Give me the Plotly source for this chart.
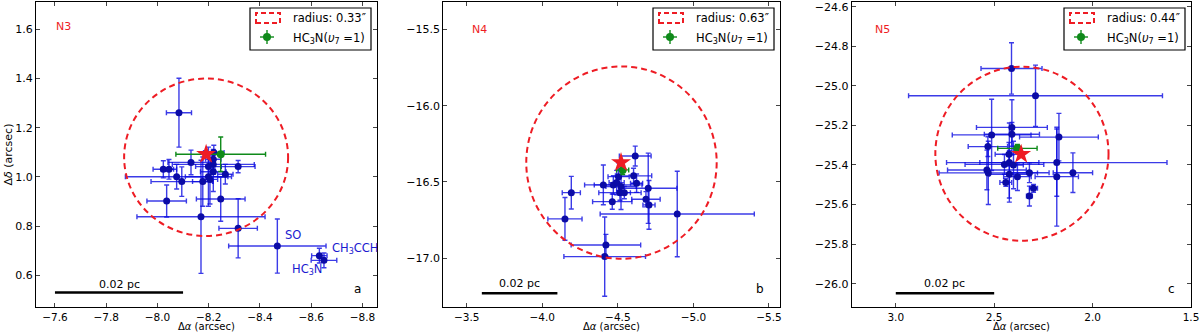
import plotly.graph_objects as go

# ---- N3 (panel a) ----
n3_ra = [-8.084, -8.220, -8.131, -8.218, -8.218, -8.315, -8.023, -8.045, -8.199, -8.218, -8.265, -8.075,
         -8.199, -8.095, -8.177, -8.205, -8.036, -8.247, -8.170, -8.315, -8.468, -8.632, -8.650]
n3_dec = [1.261, 1.099, 1.059, 1.072, 1.051, 1.042, 1.031, 1.031, 1.042, 1.021, 1.011, 1.001,
          1.001, 0.981, 0.981, 0.990, 0.902, 0.910, 0.838, 0.791, 0.719, 0.680, 0.661]
n3_ra_err = [0.049, 0.04, 0.09, 0.03, 0.16, 0.066, 0.04, 0.03, 0.05, 0.05, 0.03, 0.2,
             0.09, 0.12, 0.04, 0.03, 0.077, 0.095, 0.25, 0.075, 0.19, 0.03, 0.05]
n3_dec_err = [0.14, 0.03, 0.05, 0.04, 0.04, 0.025, 0.035, 0.04, 0.06, 0.08, 0.04, 0.05,
              0.12, 0.06, 0.1, 0.1, 0.065, 0.09, 0.23, 0.12, 0.11, 0.03, 0.03]
n3_hc3n = [-8.247, 1.092, 0.175, 0.07]      # ra, dec, ra_err, dec_err
n3_peak = [-8.19, 1.092]
n3_circle = [-8.19, 1.08, 0.32]
n3_labels = ["SO", "CH<sub>3</sub>CCH", "HC<sub>3</sub>N"]

# ---- N4 (panel b) ----
n4_ra = [-4.615, -4.604, -4.505, -4.404, -4.470, -4.492, -4.521, -4.624, -4.701, -4.514, -4.543, -4.463,
         -4.686, -4.706, -4.192, -4.150, -4.893, -4.421, -4.413]
n4_dec = [-16.33, -16.46, -16.465, -16.519, -16.519, -16.504, -16.53, -16.508, -16.541, -16.57, -16.57,
          -16.629, -16.613, -16.65, -16.57, -16.742, -16.71, -16.913, -16.989]
n4_ra_err = [0.105, 0.12, 0.07, 0.06, 0.19, 0.05, 0.1, 0.04, 0.19, 0.14, 0.04, 0.13,
             0.094, 0.04, 0.06, 0.113, 0.51, 0.23, 0.27]
n4_dec_err = [0.065, 0.05, 0.09, 0.13, 0.06, 0.08, 0.15, 0.06, 0.23, 0.05, 0.04, 0.05,
              0.05, 0.16, 0.107, 0.14, 0.28, 0.07, 0.26]
n4_hc3n = [-4.532, -16.421, 0.04, 0.03]
n4_peak = [-4.521, -16.373]
n4_circle = [-4.524, -16.373, 0.63]

# ---- N5 (panel c) ----
n5_ra = [2.412, 2.290, 2.410, 2.513, 2.410, 2.171, 2.532, 2.425, 2.448, 2.423, 2.402, 2.537,
         2.530, 2.423, 2.382, 2.321, 2.182, 2.182, 2.100, 2.441, 2.300, 2.321]
n5_dec = [-24.912, -25.05, -25.21, -25.248, -25.245, -25.259, -25.307, -25.346, -25.397, -25.388, -25.40,
          -25.425, -25.44, -25.447, -25.459, -25.439, -25.388, -25.459, -25.439, -25.488, -25.518, -25.557]
n5_ra_err = [0.155, 0.645, 0.18, 0.2, 0.14, 0.2, 0.1, 0.07, 0.2, 0.15, 0.05, 0.2,
             0.25, 0.1, 0.07, 0.1, 0.56, 0.11, 0.1, 0.03, 0.02, 0.015]
n5_dec_err = [0.13, 0.155, 0.14, 0.18, 0.06, 0.12, 0.05, 0.06, 0.05, 0.2, 0.12, 0.1,
              0.16, 0.12, 0.07, 0.05, 0.17, 0.25, 0.1, 0.02, 0.02, 0.05]
n5_hc3n = [2.382, -25.316, 0.1, 0.02]
n5_peak = [2.363, -25.346]
n5_circle = [2.359, -25.343, 0.44]

region_names = ["N3", "N4", "N5"]
panel_letters = ["a", "b", "c"]
radius_labels = ["0.33", "0.63", "0.44"]

panels = [
    dict(ra=n3_ra, dec=n3_dec, rae=n3_ra_err, dece=n3_dec_err, hc=n3_hc3n, pk=n3_peak, circ=n3_circle,
         xr=[-7.526, -8.857], yr=[0.4713, 1.711], xt=[-7.6, -7.8, -8.0, -8.2, -8.4, -8.6, -8.8],
         yt=[0.6, 0.8, 1.0, 1.2, 1.4, 1.6], bar=[-7.6, -8.1, 0.53, 0.563], dom=[0, 0.29524], nx=27, ny=24),
    dict(ra=n4_ra, dec=n4_dec, rae=n4_ra_err, dece=n4_dec_err, hc=n4_hc3n, pk=n4_peak, circ=n4_circle,
         xr=[-3.345, -5.573], yr=[-17.319, -15.321], xt=[-3.5, -4.0, -4.5, -5.0, -5.5],
         yt=[-17.0, -16.5, -16.0, -15.5], bar=[-3.6, -4.1, -17.229, -17.163], dom=[0.35264, 0.64416], nx=36, ny=27),
    dict(ra=n5_ra, dec=n5_dec, rae=n5_ra_err, dece=n5_dec_err, hc=n5_hc3n, pk=n5_peak, circ=n5_circle,
         xr=[3.224, 1.5], yr=[-26.118, -24.576], xt=[3.0, 2.5, 2.0, 1.5],
         yt=[-26.0, -25.8, -25.6, -25.4, -25.2, -25.0, -24.8, -24.6], bar=[3.0, 2.5, -26.049, -25.998],
         dom=[0.70623, 1.0], nx=31, ny=27),
]

FONT = "DejaVu Sans"
BLUE_BAR = "rgba(10,10,225,0.8)"
BLUE_DOT = "#0b0ba6"
GREEN = "#0f8a1a"
RED = "#ee1c24"

fig = go.Figure()
shapes = []
annos = []

for i, p in enumerate(panels):
    s = "" if i == 0 else str(i + 1)
    xa, ya = "x" + s, "y" + s
    fig.add_trace(go.Scatter(
        x=p["ra"], y=p["dec"], mode="markers", xaxis=xa, yaxis=ya,
        marker=dict(color=BLUE_DOT, size=7),
        error_x=dict(type="data", array=p["rae"], color=BLUE_BAR, thickness=1.4, width=2.5),
        error_y=dict(type="data", array=p["dece"], color=BLUE_BAR, thickness=1.4, width=2.5),
        showlegend=False))
    hc = p["hc"]
    fig.add_trace(go.Scatter(
        x=[hc[0]], y=[hc[1]], mode="markers", xaxis=xa, yaxis=ya,
        marker=dict(color=GREEN, size=8),
        error_x=dict(type="data", array=[hc[2]], color=GREEN, thickness=1.4, width=2.5),
        error_y=dict(type="data", array=[hc[3]], color=GREEN, thickness=1.4, width=2.5),
        showlegend=False))
    fig.add_trace(go.Scatter(
        x=[p["pk"][0]], y=[p["pk"][1]], mode="markers", xaxis=xa, yaxis=ya,
        marker=dict(symbol="star", color=RED, size=15, line=dict(width=0)),
        showlegend=False))

    cx, cy, r = p["circ"]
    shapes.append(dict(type="circle", xref=xa, yref=ya, x0=cx - r, x1=cx + r, y0=cy - r, y1=cy + r,
                       line=dict(color=RED, width=2, dash="6px,4px")))
    b = p["bar"]
    shapes.append(dict(type="line", xref=xa, yref=ya, x0=b[0], x1=b[1], y0=b[2], y1=b[2],
                       line=dict(color="black", width=2.5)))
    annos.append(dict(xref=xa, yref=ya, x=(b[0] + b[1]) / 2, y=b[3], text="0.02 pc", showarrow=False,
                      font=dict(size=11, color="black", family=FONT)))

    dx, dy = xa + " domain", ya + " domain"
    annos.append(dict(xref=dx, yref=dy, x=0, y=1, xshift=p["nx"], yshift=-p["ny"], text=region_names[i],
                      showarrow=False, xanchor="center", yanchor="middle",
                      font=dict(size=11, color=RED, family=FONT)))
    annos.append(dict(xref=dx, yref=dy, x=1, y=0, xshift=-20, yshift=18, text=panel_letters[i],
                      showarrow=False, xanchor="center", yanchor="middle",
                      font=dict(size=12, color="black", family=FONT)))
    annos.append(dict(xref=dx, yref=dy, x=0.5, y=0, yshift=-19, text="Δ<i>α</i> (arcsec)",
                      showarrow=False, xanchor="center", yanchor="middle", borderpad=0,
                      font=dict(size=10, color="black", family=FONT)))

    # hand-drawn legend box in the upper right corner
    def pxshape(kind, x0, x1, y0, y1, **kw):
        d = dict(type=kind, xref=dx, yref=dy, xsizemode="pixel", ysizemode="pixel",
                 xanchor=1, yanchor=1, x0=x0, x1=x1, y0=y0, y1=y1)
        d.update(kw)
        return d
    shapes.append(pxshape("rect", -127, -6, -48, -6, line=dict(color="black", width=1.2), fillcolor="white"))
    shapes.append(pxshape("rect", -121, -97, -21, -11, line=dict(color=RED, width=2, dash="5px,3px")))
    shapes.append(pxshape("line", -117, -103, -35, -35, line=dict(color=GREEN, width=1.4)))
    shapes.append(pxshape("line", -110, -110, -42, -28, line=dict(color=GREEN, width=1.4)))
    shapes.append(pxshape("circle", -114, -106, -39, -31, line=dict(color=GREEN, width=0), fillcolor=GREEN))
    annos.append(dict(xref=dx, yref=dy, x=1, y=1, xshift=-86, yshift=-16,
                      text="radius: " + radius_labels[i] + "″", showarrow=False,
                      xanchor="left", yanchor="middle", font=dict(size=11.5, color="black", family=FONT)))
    annos.append(dict(xref=dx, yref=dy, x=1, y=1, xshift=-86, yshift=-36,
                      text="HC<sub>3</sub>N(<i>υ</i><sub>7</sub> =1)", showarrow=False,
                      xanchor="left", yanchor="middle", font=dict(size=11.5, color="black", family=FONT)))

    ax = dict(domain=p["dom"], range=p["xr"], tickvals=p["xt"], ticks="inside", ticklen=4,
              showline=True, mirror="ticks", linecolor="black", linewidth=1.2, showgrid=False,
              zeroline=False, anchor=ya, automargin=False, tickformat=".1f",
              tickfont=dict(size=10.5, family=FONT, color="black"))
    ay = dict(domain=[0, 1], range=p["yr"], tickvals=p["yt"], ticks="inside", ticklen=4,
              showline=True, mirror="ticks", linecolor="black", linewidth=1.2, showgrid=False,
              zeroline=False, anchor=xa, automargin=False, tickformat=".1f",
              tickfont=dict(size=11, family=FONT, color="black"))
    fig.layout["xaxis" + s] = ax
    fig.layout["yaxis" + s] = ay

# molecule labels next to the outlying N3 points
label_pos = [(-8.489, 0.764), (-8.673, 0.710), (-8.518, 0.624)]
for t, (lx, ly) in zip(n3_labels, label_pos):
    annos.append(dict(xref="x", yref="y", x=lx, y=ly, text=t, showarrow=False, xanchor="left",
                      yanchor="middle", font=dict(size=11.5, color="#1a1ad0", family=FONT)))

annos.append(dict(xref="paper", yref="paper", x=0, y=0.5, xshift=-28, text="Δ<i>δ</i> (arcsec)",
                  textangle=-90, showarrow=False, xanchor="center", yanchor="middle",
                  font=dict(size=11, color="black", family=FONT)))

fig.update_layout(
    width=1200, height=332,
    margin=dict(l=36, r=9, t=2, b=25),
    paper_bgcolor="white", plot_bgcolor="white",
    shapes=shapes, annotations=annos,
    font=dict(family=FONT),
)

# drop the browser's default 8px page margin so the figure sits flush in the window
fig.write_html("out.html", config={"displayModeBar": False},
               post_script="document.body.style.margin='0';document.body.style.overflow='hidden';")
